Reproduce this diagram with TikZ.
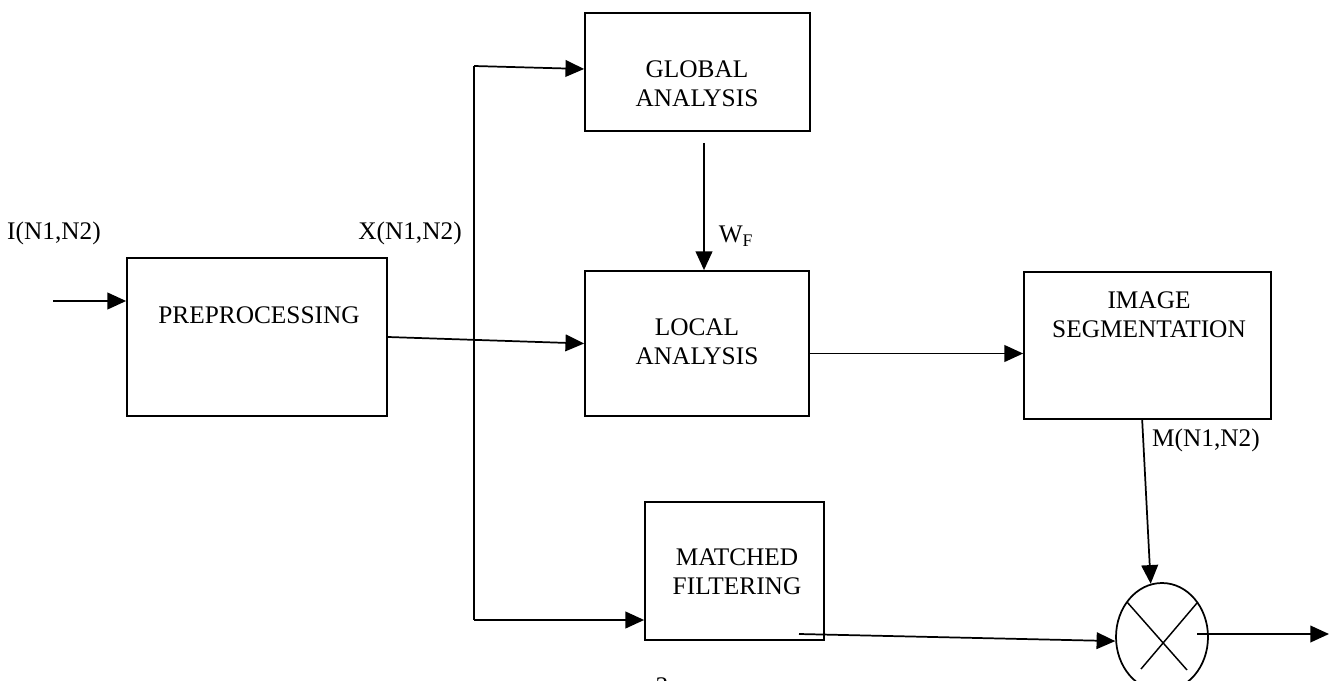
\documentclass[tikz,border=0pt]{standalone}
\usepackage{fontspec}
\setmainfont{Liberation Serif}
\usetikzlibrary{arrows.meta,shapes.geometric,calc}
\begin{document}
\begin{tikzpicture}[x=0.75pt,y=-0.75pt,
  blk/.style={draw,line width=1.3pt,rectangle,inner sep=0pt},
  txt/.style={font=\fontsize{19pt}{22pt}\selectfont,align=center,inner sep=0pt},
  lbl/.style={font=\fontsize{19pt}{22pt}\selectfont,inner sep=0pt},
  con/.style={line width=1.3pt},
  arr/.style={line width=1.3pt,-{Triangle[length=14pt,width=12.5pt]}}]
\useasboundingbox (0,0) rectangle (1331,681);
\clip (0,0) rectangle (1331,681);
\fill[white] (0,0) rectangle (1331,681);
% boxes
\node[blk,minimum width=195pt,minimum height=118.5pt] (pre) at (257,337) {};
\node[blk,minimum width=168.75pt,minimum height=88.5pt] (glob) at (697.5,72) {};
\node[blk,minimum width=168pt,minimum height=108.75pt] (loc) at (697,343.5) {};
\node[blk,minimum width=185.25pt,minimum height=110.25pt] (seg) at (1147.5,345.5) {};
\node[blk,minimum width=134.25pt,minimum height=103.5pt] (mf) at (734.5,571) {};
\node[draw,line width=1.3pt,ellipse,minimum width=69pt,minimum height=81pt,inner sep=0pt] (mult) at (1162,637) {};
% box texts
\node[txt] (pretxt) at (259,315) {PREPROCESSING};
\node[txt] (globtxt) at (697,84) {GLOBAL\\ANALYSIS};
\node[txt] (loctxt) at (697,342) {LOCAL\\ANALYSIS};
\node[txt] (segtxt) at (1149,315) {IMAGE\\SEGMENTATION};
\node[txt] (mftxt) at (737,572) {MATCHED\\FILTERING};
% multiplier cross
\draw[line width=1.1pt] ($(mult.center)+(-35,-35)$) coordinate (xa) -- ($(mult.center)+(25,33)$) coordinate (xb);
\draw[line width=1.1pt] ($(mult.center)+(35,-34)$) coordinate (xc) -- ($(mult.center)+(-21,32)$) coordinate (xd);
% labels
\node[lbl] (lI) at (54,233) {I(N1,N2)};
\node[lbl] (lX) at (410,233) {X(N1,N2)};
\node[lbl] (lW) at (736,236) {W\textsubscript{F}};
\node[lbl] (lM) at (1206,440) {M(N1,N2)};
\node[lbl,anchor=north] (pg) at (662,677) {3};
% connectors
\coordinate (in) at (53,301);
\draw[arr] (in) -- (in -| pre.west);
\draw[arr] (pre.east) -- (loc.west);
\coordinate (tap1) at (474,66);
\coordinate (tap2) at (474,620);
\draw[arr] (tap1) -- ([yshift=2.25pt]glob.west);
\draw[con] (tap1) -- (tap2);
\draw[arr] (tap2) -- (tap2 -| mf.west);
\coordinate (wtop) at (704,143);
\draw[arr] (wtop) -- (wtop |- loc.north);
\draw[arr] ([yshift=-7.5pt]loc.east) -- ([yshift=-7.5pt]loc.east -| seg.west);
\draw[arr] ([xshift=-4pt]seg.south) -- (mult.102);
\coordinate (mfout) at (799,634);
\draw[arr] (mfout) -- (mult.185);
\coordinate (outs) at (1197,634);
\coordinate (oute) at (1329,634);
\draw[arr] (outs) -- (oute);
\end{tikzpicture}
\end{document}
